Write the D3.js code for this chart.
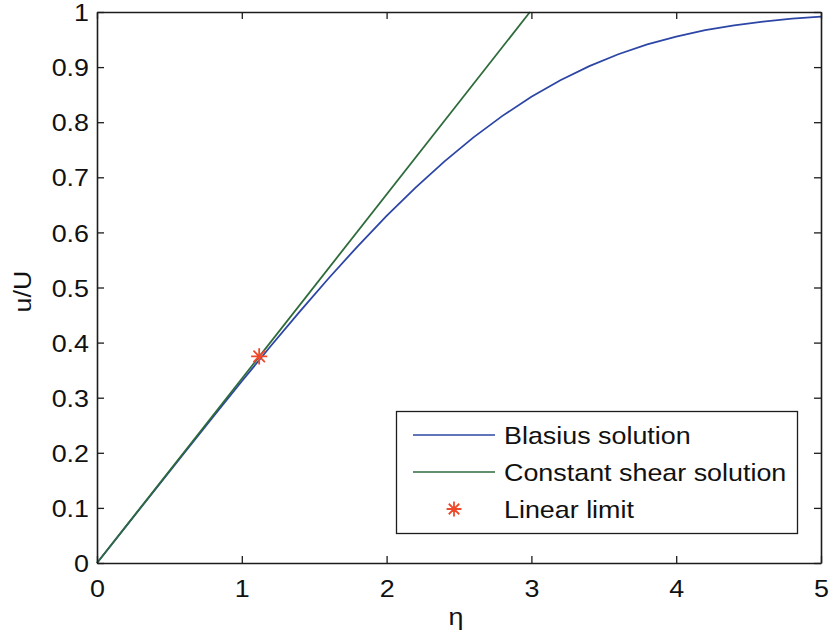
<!DOCTYPE html>
<html>
<head>
<meta charset="utf-8">
<script src="https://cdn.jsdelivr.net/npm/d3@7"></script>
<style>
  html, body { margin: 0; padding: 0; background: #fff; }
  svg { display: block; }
  text { font-family: "Liberation Sans", Arial, Helvetica, sans-serif; fill: #111; }
</style>
</head>
<body>
<svg id="chart" width="834" height="638"></svg>
<script>
// Blasius boundary-layer velocity profile u/U against similarity variable eta
const blasiusEta = [0, 0.2, 0.4, 0.6, 0.8, 1.0, 1.2, 1.4, 1.6, 1.8, 2.0, 2.2, 2.4, 2.6,
                    2.8, 3.0, 3.2, 3.4, 3.6, 3.8, 4.0, 4.2, 4.4, 4.6, 4.8, 5.0];
const blasiusU = [0, 0.0664, 0.1328, 0.1989, 0.2647, 0.3298, 0.3938, 0.4563, 0.5168, 0.5748,
                  0.6298, 0.6813, 0.7290, 0.7725, 0.8115, 0.8461, 0.8761, 0.9018, 0.9233,
                  0.9411, 0.9555, 0.9670, 0.9759, 0.9827, 0.9878, 0.9916];

// Constant wall-shear (linear) profile, clipped at u/U = 1
const shearEta = [0, 2.99];
const shearU = [0, 1];

// Point where the linear approximation stops holding
const limitEta = [1.12];
const limitU = [0.375];

const xTicks = [0, 1, 2, 3, 4, 5];
const xTickLabels = ["0", "1", "2", "3", "4", "5"];
const yTicks = [0, 0.1, 0.2, 0.3, 0.4, 0.5, 0.6, 0.7, 0.8, 0.9, 1];
const yTickLabels = ["0", "0.1", "0.2", "0.3", "0.4", "0.5", "0.6", "0.7", "0.8", "0.9", "1"];

const legendLabels = ["Blasius solution", "Constant shear solution", "Linear limit"];

const colBlue = "#2d46a6";
const colGreen = "#2d6b3b";
const colStar = "#ee4a2a";
const colAxis = "#1c1c1c";
const stretch = 1.12;   // horizontal glyph stretch for the Helvetica-like labels

const svg = d3.select("#chart");
const plotLeft = 97, plotRight = 821, plotTop = 12, plotBottom = 563;

const x = d3.scaleLinear().domain([0, 5]).range([plotLeft, plotRight]);
const y = d3.scaleLinear().domain([0, 1]).range([plotBottom, plotTop]);

svg.append("rect").attr("width", 834).attr("height", 638).attr("fill", "#fff");

// Asterisk marker: plus and cross overlaid
const asterisk = {
  draw(ctx, size) {
    const r = Math.sqrt(size) / 2;
    const d = r * Math.SQRT1_2;
    ctx.moveTo(-r, 0); ctx.lineTo(r, 0);
    ctx.moveTo(0, -r); ctx.lineTo(0, r);
    ctx.moveTo(-d, -d); ctx.lineTo(d, d);
    ctx.moveTo(-d, d); ctx.lineTo(d, -d);
  }
};

function stretchText(sel) {
  sel.each(function () {
    const t = d3.select(this);
    const xv = +t.attr("x") || 0;
    t.attr("x", xv / stretch).attr("transform", `scale(${stretch},1)`);
  });
}

// Data series
const lineGen = d3.line().x(d => x(d[0])).y(d => y(d[1]));
const plot = svg.append("g");
plot.append("path")
  .datum(blasiusEta.map((e, i) => [e, blasiusU[i]]))
  .attr("d", lineGen).attr("fill", "none")
  .attr("stroke", colBlue).attr("stroke-width", 1.8);
plot.append("path")
  .datum(shearEta.map((e, i) => [e, shearU[i]]))
  .attr("d", lineGen).attr("fill", "none")
  .attr("stroke", colGreen).attr("stroke-width", 1.8);
plot.selectAll("path.star")
  .data(limitEta.map((e, i) => [e, limitU[i]]))
  .join("path").attr("class", "star")
  .attr("transform", d => `translate(${x(d[0])},${y(d[1])})`)
  .attr("d", d3.symbol().type(asterisk).size(260))
  .attr("fill", "none").attr("stroke", colStar).attr("stroke-width", 1.8);

// Axes: ticks pointing inward on all four sides
const fs = 24;
const gx = svg.append("g").attr("transform", `translate(0,${plotBottom})`)
  .call(d3.axisBottom(x).tickValues(xTicks).tickFormat((d, i) => xTickLabels[i])
        .tickSize(-7).tickSizeOuter(0).tickPadding(17));
const gy = svg.append("g").attr("transform", `translate(${plotLeft},0)`)
  .call(d3.axisLeft(y).tickValues(yTicks).tickFormat((d, i) => yTickLabels[i])
        .tickSize(-7).tickSizeOuter(0).tickPadding(8));
const gt = svg.append("g").attr("transform", `translate(0,${plotTop})`)
  .call(d3.axisTop(x).tickValues(xTicks).tickFormat("").tickSize(-7).tickSizeOuter(0));
const gr = svg.append("g").attr("transform", `translate(${plotRight},0)`)
  .call(d3.axisRight(y).tickValues(yTicks).tickFormat("").tickSize(-7).tickSizeOuter(0));

[gx, gy, gt, gr].forEach(g => {
  g.select(".domain").attr("stroke", colAxis).attr("stroke-width", 1.6);
  g.selectAll(".tick line").attr("stroke", colAxis).attr("stroke-width", 1.3);
  g.selectAll("text").attr("font-size", fs)
    .attr("font-family", "'Liberation Sans', Arial, sans-serif").attr("fill", "#111");
});
gy.selectAll(".tick text").attr("dy", "0.36em").call(stretchText);
gx.selectAll(".tick text").call(stretchText);

// Axis titles
svg.append("text")
  .attr("transform", `translate(${(plotLeft + plotRight) / 2 - 3},625) scale(${stretch},1)`)
  .attr("text-anchor", "middle").attr("font-size", fs).text("η");
svg.append("text")
  .attr("transform", `translate(31,${(plotTop + plotBottom) / 2 + 4}) rotate(-90) scale(${stretch},1)`)
  .attr("text-anchor", "middle").attr("font-size", fs).text("u/U");

// Legend
const lg = svg.append("g");
lg.append("rect").attr("x", 396.5).attr("y", 411.5).attr("width", 401).attr("height", 122)
  .attr("fill", "#fff").attr("stroke", colAxis).attr("stroke-width", 1.3);
const rowY = [435, 472, 509];
lg.append("line").attr("x1", 413).attr("x2", 495).attr("y1", rowY[0]).attr("y2", rowY[0])
  .attr("stroke", colBlue).attr("stroke-width", 1.7);
lg.append("line").attr("x1", 413).attr("x2", 495).attr("y1", rowY[1]).attr("y2", rowY[1])
  .attr("stroke", colGreen).attr("stroke-width", 1.7);
lg.append("path").attr("transform", `translate(454,${rowY[2]})`)
  .attr("d", d3.symbol().type(asterisk).size(220))
  .attr("fill", "none").attr("stroke", colStar).attr("stroke-width", 1.8);
legendLabels.forEach((t, i) => {
  lg.append("text")
    .attr("transform", `translate(504,${rowY[i] + 9}) scale(${stretch},1)`)
    .attr("font-size", fs).text(t);
});
</script>
</body>
</html>
